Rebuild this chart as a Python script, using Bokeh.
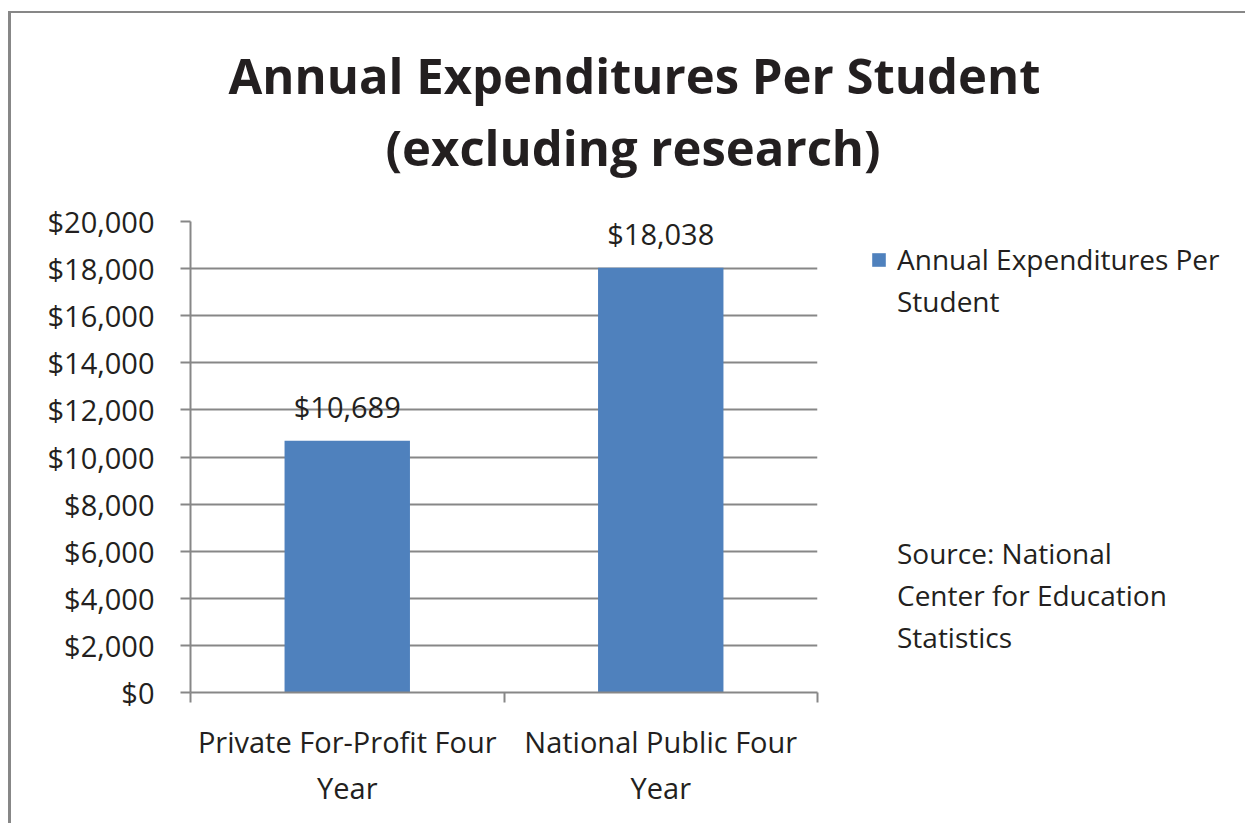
from bokeh.plotting import figure
from bokeh.models import (ColumnDataSource, Range1d, LinearAxis, Title,
                          FixedTicker, NumeralTickFormatter, LabelSet, Legend, LegendItem)
from bokeh.core.properties import value
from bokeh.embed import file_html
from bokeh.resources import INLINE

# ---- data ----
categories = ["Private For-Profit Four Year", "National Public Four Year"]
axis_labels = ["Private For-Profit Four\nYear", "National Public Four\nYear"]
values = [10689, 18038]
y_ticks = [0, 2000, 4000, 6000, 8000, 10000, 12000, 14000, 16000, 18000, 20000]
series_lines = ["Annual Expenditures Per", "Student"]   # legend entry, wrapped as in the original
title_lines = ["Annual Expenditures Per Student", "(excluding research)"]
source_lines = ["Source: National", "Center for Education", "Statistics"]

# ---- style ----
FONT = "Open Sans"
TXT = "#231F20"
GRAY = "#878787"
BAR = "#4F81BD"
FS = "29px"

n = len(categories)
centers = [i + 0.5 for i in range(n)]
value_labels = [f"${v:,}" for v in values]
src = ColumnDataSource(dict(x=centers, cat=categories, val=values, lbl=value_labels))

p = figure(x_range=Range1d(0, n), y_range=Range1d(0, 20000),
           frame_width=627, frame_height=471,
           min_border_left=179, min_border_right=420, min_border_top=208, min_border_bottom=131,
           x_axis_location=None, output_backend="svg", toolbar_location=None, tools="")
p.styles = {"border-top": f"2px solid {GRAY}", "border-left": f"3px solid {GRAY}",
            "margin-top": "11px", "margin-left": "8px"}
p.outline_line_color = None
p.background_fill_color = "white"
p.border_fill_color = "white"

# title: p.title is the outer line, the added Title sits next to the frame
p.title.text = title_lines[0]
p.title.text_font = FONT
p.title.text_font_style = "bold"
p.title.text_font_size = "49px"
p.title.text_color = TXT
p.title.align = "left"
p.title.offset = 38
p.title.standoff = -77
p.add_layout(Title(text=title_lines[1], text_font=FONT, text_font_style="bold",
                   text_font_size="49px", text_color=TXT, align="left", offset=195,
                   standoff=84), "above")

# y axis
p.yaxis.ticker = FixedTicker(ticks=y_ticks)
p.yaxis.formatter = NumeralTickFormatter(format="$0,0")
p.yaxis.major_label_text_font = FONT
p.yaxis.major_label_text_font_size = FS
p.yaxis.major_label_text_color = TXT
p.yaxis.major_label_standoff = 26
p.yaxis.major_tick_out = 10
p.yaxis.major_tick_in = 0
p.yaxis.minor_tick_line_color = None
p.yaxis.axis_line_color = GRAY
p.yaxis.axis_line_width = 2
p.yaxis.major_tick_line_color = GRAY
p.yaxis.major_tick_line_width = 2

p.xgrid.grid_line_color = None
p.ygrid.ticker = FixedTicker(ticks=y_ticks)
p.ygrid.grid_line_color = GRAY
p.ygrid.grid_line_width = 2

# x axis: boundary ticks (between categories) + category labels (at centers)
tick_axis = LinearAxis(ticker=FixedTicker(ticks=list(range(n + 1))),
                       major_label_text_font_size="0px", major_label_standoff=0,
                       major_tick_out=10, major_tick_in=0, minor_tick_line_color=None,
                       axis_line_color=GRAY, axis_line_width=2,
                       major_tick_line_color=GRAY, major_tick_line_width=2)
p.add_layout(tick_axis, "below")
cat_axis = LinearAxis(ticker=FixedTicker(ticks=centers), minor_tick_line_color=None,
                      major_tick_line_color=None, axis_line_color=None,
                      major_label_overrides=dict(zip(centers, axis_labels)),
                      major_label_text_font=FONT, major_label_text_font_size=FS,
                      major_label_text_color=TXT, major_label_standoff=13)
p.add_layout(cat_axis, "below")

# bars
r = p.vbar(x="x", top="val", width=0.4, source=src, fill_color=BAR, line_color=None)

# value labels
p.add_layout(LabelSet(x="x", y="val", text="lbl", source=src, y_offset=23,
                      text_align="center", text_baseline="alphabetic",
                      text_font=value(FONT), text_font_size=value(FS), text_color=value(TXT)))

# right-hand column: legend entry (wrapped) and the source note, in one legend
# whose extra rows carry no visible glyph
blank = p.scatter(x=[], y=[], size=1, fill_alpha=0, line_alpha=0)
rows = ([LegendItem(label=series_lines[0], renderers=[r]),
         LegendItem(label=series_lines[1], renderers=[blank])] +
        [LegendItem(label=" ", renderers=[blank]) for _ in range(5)] +
        [LegendItem(label=t, renderers=[blank]) for t in source_lines])
legend = Legend(items=rows, location=(53, 34),
                padding=0, margin=0, spacing=0, border_line_color=None, background_fill_alpha=0,
                glyph_width=17, glyph_height=17, label_height=42, label_standoff=10,
                label_text_font=FONT, label_text_font_size="28px", label_text_color=TXT)
p.add_layout(legend, "right")

open("out.html", "w").write(file_html(p, INLINE))
